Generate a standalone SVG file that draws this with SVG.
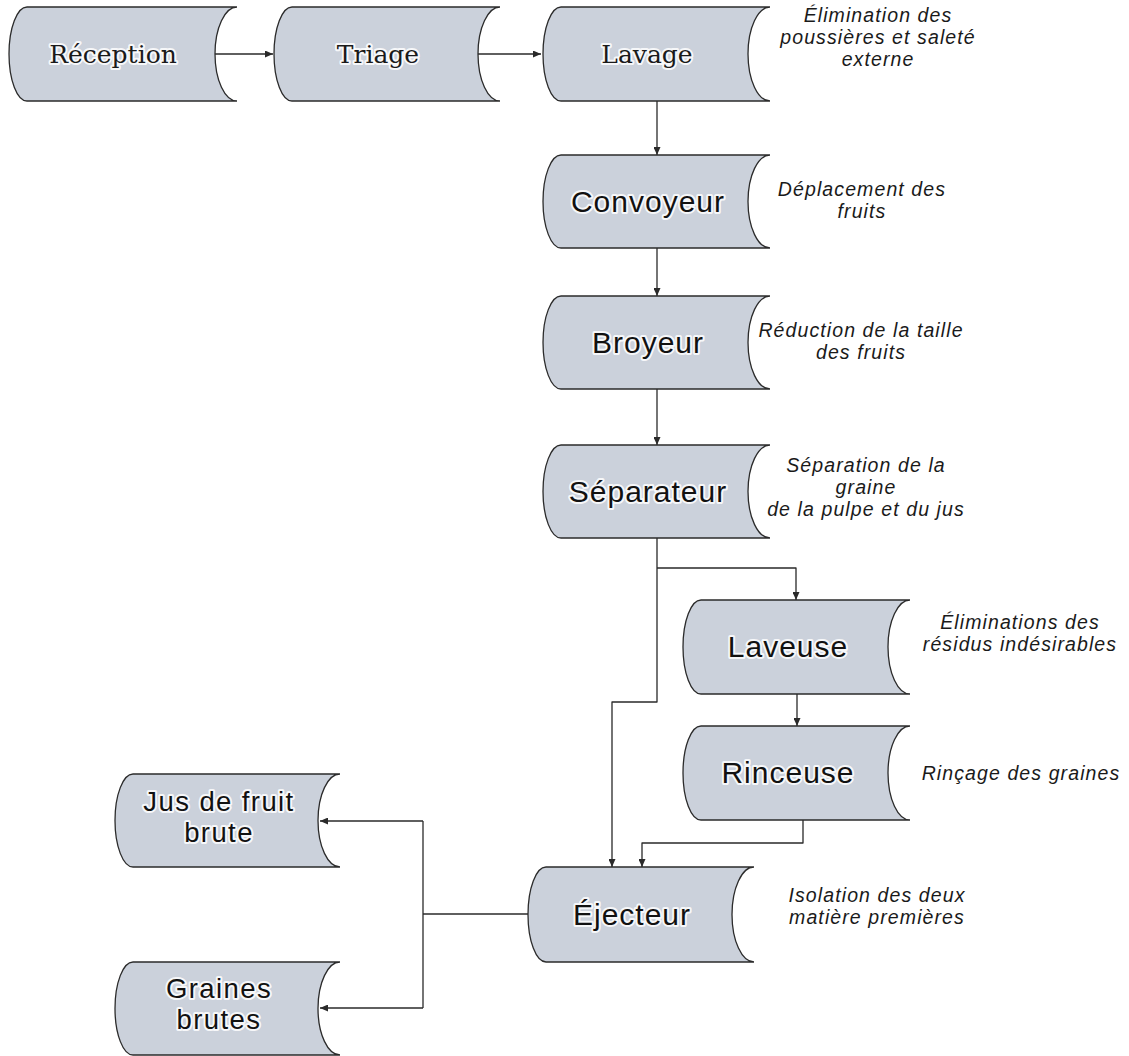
<svg xmlns="http://www.w3.org/2000/svg" width="1129" height="1056" viewBox="0 0 1129 1056">
  <defs>
    <marker id="arrow" markerWidth="8" markerHeight="7" refX="8" refY="3.5" orient="auto" markerUnits="userSpaceOnUse">
      <path d="M0,0 L8,3.5 L0,7 z" fill="#2a2a2a"/>
    </marker>
  </defs>
  <style>
    .box { fill: #cbd1db; stroke: #2b2b2b; stroke-width: 1.3; }
    .serif { font-family: "DejaVu Serif", "Liberation Serif", serif; font-size: 25px; fill: #1a1a1a; text-anchor: middle; stroke: #ffffff; stroke-width: 4; stroke-opacity: 0.85; paint-order: stroke; stroke-linejoin: round; }
    .label { font-family: "Liberation Sans", Arial, sans-serif; font-size: 30px; letter-spacing: 1px; fill: #111111; text-anchor: middle; stroke: #ffffff; stroke-width: 4; stroke-opacity: 0.85; paint-order: stroke; stroke-linejoin: round; }
    .label2 { font-size: 27.5px; letter-spacing: 1.4px; }
    .desc { font-family: "Liberation Sans", Arial, sans-serif; font-size: 19.5px; font-style: italic; letter-spacing: 1.1px; fill: #1a1a1a; text-anchor: middle; }
    .wire { fill: none; stroke: #2a2a2a; stroke-width: 1.3; stroke-linejoin: round; }
  </style>
  <rect width="1129" height="1056" fill="#ffffff"/>

  <!-- connectors -->
  <g id="connectors">
    <path class="wire" d="M213,54 H273" marker-end="url(#arrow)"/>
    <path class="wire" d="M478,54 H541" marker-end="url(#arrow)"/>
    <path class="wire" d="M657,101 V155" marker-end="url(#arrow)"/>
    <path class="wire" d="M657,248 V296" marker-end="url(#arrow)"/>
    <path class="wire" d="M657,389 V445" marker-end="url(#arrow)"/>
    <path class="wire" d="M657,538 V702 H612 V867" marker-end="url(#arrow)"/>
    <path class="wire" d="M657,568 H796 V600" marker-end="url(#arrow)"/>
    <path class="wire" d="M797,694 V726" marker-end="url(#arrow)"/>
    <path class="wire" d="M803,820 V843 H642 V867" marker-end="url(#arrow)"/>
    <path class="wire" d="M528,914 H423"/>
    <path class="wire" d="M423,821 V1008"/>
    <path class="wire" d="M423,821 H320" marker-end="url(#arrow)"/>
    <path class="wire" d="M423,1008 H320" marker-end="url(#arrow)"/>
  </g>

  <!-- process steps -->
  <g id="reception">
    <path class="box" d="M27,7 H237 A22,47 0 0 0 237,101 H27 A18,47 0 0 1 27,7 Z"/>
    <text class="serif" x="113" y="63">Réception</text>
  </g>
  <g id="triage">
    <path class="box" d="M292,7 H500 A22,47 0 0 0 500,101 H292 A18,47 0 0 1 292,7 Z"/>
    <text class="serif" x="378" y="63">Triage</text>
  </g>
  <g id="lavage">
    <path class="box" d="M561,7 H770 A22,47 0 0 0 770,101 H561 A18,47 0 0 1 561,7 Z"/>
    <text class="serif" x="647" y="63">Lavage</text>
    <text class="desc" x="878" y="22">Élimination des</text>
    <text class="desc" x="878" y="44">poussières et saleté</text>
    <text class="desc" x="878" y="66">externe</text>
  </g>
  <g id="convoyeur">
    <path class="box" d="M561,155 H770 A22,46.5 0 0 0 770,248 H561 A18,46.5 0 0 1 561,155 Z"/>
    <text class="label" x="648" y="212">Convoyeur</text>
    <text class="desc" x="862" y="196">Déplacement des</text>
    <text class="desc" x="862" y="218">fruits</text>
  </g>
  <g id="broyeur">
    <path class="box" d="M561,296 H770 A22,46.5 0 0 0 770,389 H561 A18,46.5 0 0 1 561,296 Z"/>
    <text class="label" x="648" y="353">Broyeur</text>
    <text class="desc" x="861" y="337">Réduction de la taille</text>
    <text class="desc" x="861" y="359">des fruits</text>
  </g>
  <g id="separateur">
    <path class="box" d="M561,445 H770 A22,46.5 0 0 0 770,538 H561 A18,46.5 0 0 1 561,445 Z"/>
    <text class="label" x="648" y="502">Séparateur</text>
    <text class="desc" x="866" y="472">Séparation de la</text>
    <text class="desc" x="866" y="494">graine</text>
    <text class="desc" x="866" y="516">de la pulpe et du jus</text>
  </g>
  <g id="laveuse">
    <path class="box" d="M701,600 H910 A22,47 0 0 0 910,694 H701 A18,47 0 0 1 701,600 Z"/>
    <text class="label" x="788" y="657">Laveuse</text>
    <text class="desc" x="1020" y="629">Éliminations des</text>
    <text class="desc" x="1020" y="651">résidus indésirables</text>
  </g>
  <g id="rinceuse">
    <path class="box" d="M701,726 H910 A22,47 0 0 0 910,820 H701 A18,47 0 0 1 701,726 Z"/>
    <text class="label" x="788" y="783">Rinceuse</text>
    <text class="desc" x="1021" y="780">Rinçage des graines</text>
  </g>
  <g id="ejecteur">
    <path class="box" d="M546,867 H754 A22,47.5 0 0 0 754,962 H546 A18,47.5 0 0 1 546,867 Z"/>
    <text class="label" x="632" y="925">Éjecteur</text>
    <text class="desc" x="877" y="902">Isolation des deux</text>
    <text class="desc" x="877" y="924">matière premières</text>
  </g>
  <g id="jus-de-fruit">
    <path class="box" d="M133,774 H340 A22,46.5 0 0 0 340,867 H133 A18,46.5 0 0 1 133,774 Z"/>
    <text class="label label2" x="219" y="811">Jus de fruit</text>
    <text class="label label2" x="219" y="842">brute</text>
  </g>
  <g id="graines-brutes">
    <path class="box" d="M133,962 H340 A22,46.5 0 0 0 340,1055 H133 A18,46.5 0 0 1 133,962 Z"/>
    <text class="label label2" x="219" y="998">Graines</text>
    <text class="label label2" x="219" y="1029">brutes</text>
  </g>
</svg>
